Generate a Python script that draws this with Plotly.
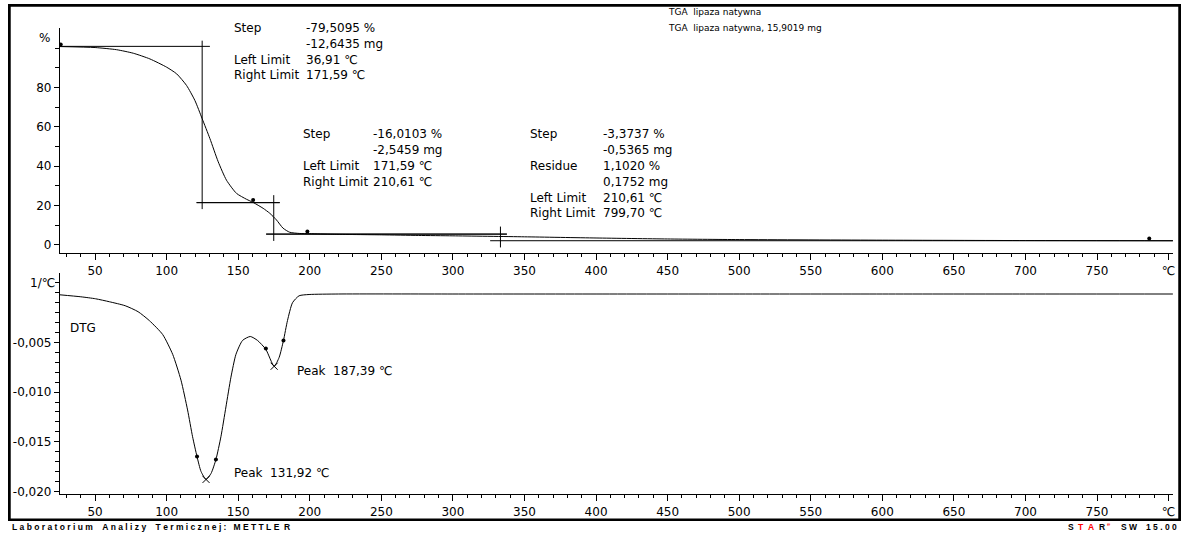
import plotly.graph_objects as go

# ---------------- data ----------------
# TGA curve: sample temperature (degC) and mass (%)
tga_temp = [25.4, 50, 65, 76.7, 88.3, 100, 107, 113.9, 119.7, 124.8, 130.2, 136, 141.8,
            148.8, 155.8, 160.4, 167.4, 172, 176.7, 181.3, 186, 193, 200, 216, 250, 276,
            300, 350, 400, 450, 500, 600, 700, 803]
tga_mass = [100.9, 100.4, 99.3, 97.5, 94.6, 90.4, 87.0, 81.1, 73.5, 64.2, 54.1, 42.3, 32.9,
            26.2, 23.2, 21.6, 18.6, 16.1, 12.7, 8.5, 6.4, 5.8, 5.7, 5.4, 5.1, 4.8,
            4.6, 4.1, 3.5, 3.0, 2.7, 2.4, 2.2, 2.1]

# DTG curve: temperature (degC) and derivative (1/degC)
dtg_temp = [25.4, 40, 50.3, 60, 71, 80, 87.9, 97.2, 104.2, 110, 114.6, 118.1, 121.2, 124,
            127.5, 131, 134.4, 137.9, 141.4, 144.9, 148.4, 153, 158.4, 163.5, 169.3, 175.1,
            178.6, 181.6, 184.4, 187.9, 192.5, 199.5, 220, 300, 400, 500, 600, 700, 803]
dtg_val = [-0.0002, -0.0004, -0.0006, -0.0009, -0.0013, -0.0019, -0.0028, -0.0042, -0.0062,
           -0.0088, -0.0118, -0.0145, -0.0165, -0.0180, -0.0188, -0.0182, -0.0168, -0.0145,
           -0.0115, -0.0085, -0.0062, -0.0048, -0.0044, -0.0048, -0.0057, -0.0074, -0.0065,
           -0.0048, -0.0028, -0.0010, -0.0003, -0.00017, -0.00012, -0.00012, -0.00012,
           -0.00012, -0.00012, -0.00012, -0.00012]

# step evaluation results
step_pct = [-79.5095, -16.0103, -3.3737]
step_mg = [-12.6435, -2.5459, -0.5365]
step_left = [36.91, 171.59, 210.61]
step_right = [171.59, 210.61, 799.70]
residue_pct = 1.1020
residue_mg = 0.1752
sample_mass_mg = 15.9019
start_level = 101.0

# step construction: inflection temperatures and baseline extents
step_infl_temp = [124.8, 174.8, 333.2]
step_vert_span = [(103.9, 18.2), (25.3, 2.0), (9.3, -1.3)]
upper_base_span = [(20.7, 130.2), (120.9, 179.0), (169.5, 337.7)]
lower_base_span = [(120.9, 179.0), (169.5, 337.7), (326.0, 803.0)]

# evaluation limit markers
tga_pin_temp = [26.0, 160.4, 198.3, 786.5]
tga_pin_val = [101.9, 22.8, 6.8, 3.2]
dtg_pin_temp = [121.2, 134.4, 169.3, 181.6]
dtg_pin_val = [-0.0165, -0.0168, -0.0056, -0.0048]

# peak evaluation: search windows and reported peak temperatures
peak_windows = [(110, 150), (165, 185)]
peak_reported = [131.92, 187.39]

# axis ticks
x_major = [50, 100, 150, 200, 250, 300, 350, 400, 450, 500, 550, 600, 650, 700, 750, 800]
x_major_text = [str(v) for v in x_major[:-1]] + ["\u2103"]
tga_ticks = [0, 20, 40, 60, 80]
tga_minor = [10, 30, 50, 70, 90, 100]
dtg_ticks = [-0.020, -0.015, -0.010, -0.005]
dtg_tick_text = ["-0,020", "-0,015", "-0,010", "-0,005"]
dtg_minor = [-0.019, -0.018, -0.017, -0.016, -0.014, -0.013, -0.012, -0.011, -0.009,
             -0.008, -0.007, -0.006, -0.004, -0.003, -0.002, -0.001, 0.0, 0.001]

# ---------------- layout helpers ----------------
W, H = 1185, 540
FONT = "DejaVu Sans"
NB = "\u00a0"


def fx(px):
    return px / W


def fy(py):
    return 1 - py / H


def num(v, d):
    return f"{v:.{d}f}".replace(".", ",")


fig = go.Figure()

# TGA curve
fig.add_trace(go.Scatter(x=tga_temp, y=tga_mass, mode="lines",
                         line=dict(color="black", width=1, shape="spline", smoothing=0.6),
                         xaxis="x", yaxis="y", hoverinfo="skip"))

# step construction lines
levels = [start_level]
for s in step_pct:
    levels.append(levels[-1] + s)
sx, sy = [], []
for i in range(3):
    a, b = upper_base_span[i]
    sx += [a, b, None]
    sy += [levels[i], levels[i], None]
    a, b = step_vert_span[i]
    sx += [step_infl_temp[i], step_infl_temp[i], None]
    sy += [a, b, None]
    a, b = lower_base_span[i]
    sx += [a, b, None]
    sy += [levels[i + 1], levels[i + 1], None]
fig.add_trace(go.Scatter(x=sx, y=sy, mode="lines", line=dict(color="black", width=1),
                         xaxis="x", yaxis="y", hoverinfo="skip"))

# TGA limit markers
fig.add_trace(go.Scatter(x=tga_pin_temp, y=tga_pin_val, mode="markers",
                         marker=dict(symbol="circle", size=4, color="black"),
                         xaxis="x", yaxis="y", hoverinfo="skip"))

# DTG curve
fig.add_trace(go.Scatter(x=dtg_temp, y=dtg_val, mode="lines",
                         line=dict(color="black", width=1, shape="spline", smoothing=0.6),
                         xaxis="x2", yaxis="y2", hoverinfo="skip"))
fig.add_trace(go.Scatter(x=dtg_pin_temp, y=dtg_pin_val, mode="markers",
                         marker=dict(symbol="circle", size=4, color="black"),
                         xaxis="x2", yaxis="y2", hoverinfo="skip"))

# peak markers at the DTG minima inside each window
pk_t, pk_v = [], []
for lo, hi in peak_windows:
    v, t = min((v, t) for t, v in zip(dtg_temp, dtg_val) if lo <= t <= hi)
    pk_t.append(t)
    pk_v.append(v)
fig.add_trace(go.Scatter(x=pk_t, y=pk_v, mode="markers",
                         marker=dict(symbol="x-thin", size=7, color="black",
                                     line=dict(color="black", width=1)),
                         xaxis="x2", yaxis="y2", hoverinfo="skip"))

# helper subplot spanning the sheet; its mirrored axis lines draw the outer frame
fig.add_trace(go.Scatter(x=[0.5], y=[0.5], mode="markers", marker=dict(opacity=0),
                         xaxis="x3", yaxis="y3", hoverinfo="skip"))

# ---------------- axes ----------------
xdom = [fx(60), fx(1175)]
xrange_ = [25.4, 803.1]
tickfont = dict(family=FONT, size=12, color="black")


def xaxis(anchor):
    return dict(domain=xdom, range=xrange_, anchor=anchor, showline=True, linecolor="black",
                linewidth=1, ticks="outside", ticklen=6, tickwidth=1, tickcolor="black",
                tickmode="array", tickvals=x_major, ticktext=x_major_text,
                showgrid=False, zeroline=False, tickfont=tickfont,
                minor=dict(ticks="outside", ticklen=3, tickwidth=1, tickcolor="black",
                           tickmode="linear", tick0=0, dtick=10, showgrid=False))


def yaxis(domain, rng, anchor, vals, text, minor):
    return dict(domain=domain, range=rng, anchor=anchor, showline=True, linecolor="black",
                linewidth=1, ticks="outside", ticklen=5, tickcolor="black", tickmode="array",
                tickvals=vals, ticktext=text, showgrid=False, zeroline=False, tickfont=tickfont,
                minor=dict(ticks="outside", ticklen=4, tickcolor="black", tickmode="array",
                           tickvals=minor, showgrid=False))


frame_axis = dict(showline=True, mirror=True, linecolor="black", linewidth=1.5,
                  showticklabels=False, ticks="", showgrid=False, zeroline=False,
                  range=[0, 1], fixedrange=True)

# outer frame of the printout
frame = dict(type="rect", xref="paper", yref="paper", layer="above",
             x0=fx(10), x1=fx(1181), y0=fy(523), y1=fy(6),
             line=dict(color="black", width=1.5))

fig.update_layout(
    width=W, height=H, margin=dict(l=0, r=0, t=0, b=0),
    paper_bgcolor="white", plot_bgcolor="rgba(0,0,0,0)", showlegend=False,
    font=dict(family=FONT, size=12, color="black"),
    xaxis=xaxis("y"),
    xaxis2=xaxis("y2"),
    yaxis=yaxis([fy(255), fy(28)], [-4.19, 110.45], "x", tga_ticks,
                [str(v) for v in tga_ticks], tga_minor),
    yaxis2=yaxis([fy(498), fy(275)], [-0.0203, 0.0020], "x2", dtg_ticks, dtg_tick_text,
                 dtg_minor),
    xaxis3=dict(domain=[fx(10), fx(1181)], anchor="y3", **frame_axis),
    yaxis3=dict(domain=[fy(523), fy(6)], anchor="x3", **frame_axis),
    shapes=[frame],
)

# ---------------- text ----------------
ann = []


def text(x, y, s, anchor="left", size=12, family=FONT, color="black"):
    ann.append(dict(x=fx(x), y=fy(y), xref="paper", yref="paper", text=s, showarrow=False,
                    xanchor=anchor, yanchor="middle",
                    font=dict(family=family, size=size, color=color)))


C = NB + "\u2103"
blocks = [
    (232, 305, 28, [("Step", num(step_pct[0], 4) + NB + "%"),
                    ("", num(step_mg[0], 4) + NB + "mg"),
                    ("Left Limit", num(step_left[0], 2) + C),
                    ("Right Limit", num(step_right[0], 2) + C)]),
    (302, 372, 135, [("Step", num(step_pct[1], 4) + NB + "%"),
                     ("", num(step_mg[1], 4) + NB + "mg"),
                     ("Left Limit", num(step_left[1], 2) + C),
                     ("Right Limit", num(step_right[1], 2) + C)]),
    (529, 602, 135, [("Step", num(step_pct[2], 4) + NB + "%"),
                     ("", num(step_mg[2], 4) + NB + "mg"),
                     ("Residue", num(residue_pct, 4) + NB + "%"),
                     ("", num(residue_mg, 4) + NB + "mg"),
                     ("Left Limit", num(step_left[2], 2) + C),
                     ("Right Limit", num(step_right[2], 2) + C)]),
]
for lx, vx, y0, rows in blocks:
    for k, (lab, val) in enumerate(rows):
        if lab:
            text(lx, y0 + 16 * k, lab)
        text(vx, y0 + 16 * k, val)

text(667, 12, "TGA" + NB * 2 + "lipaza natywna", size=9)
text(667, 28, "TGA" + NB * 2 + "lipaza natywna, " + num(sample_mass_mg, 4) + NB + "mg",
     size=9)

text(232, 477, "Peak" + NB * 2 + num(peak_reported[0], 2) + C)
text(295, 374, "Peak" + NB * 2 + num(peak_reported[1], 2) + C)
text(68, 330, "DTG")

# unit labels at the top of the y axes
text(52, 38, "%", anchor="right")
text(57, 285, "1/\u2103", anchor="right")


def spaced(s, inner=1, gap=4):
    return (NB * gap).join((NB * inner).join(list(w)) for w in s.split(" "))


FOOT = "Liberation Sans"
text(10, 531, "<b>" + spaced("Laboratorium Analizy Termicznej:") + NB * 3
     + spaced("METTLE") + NB * 2 + "R</b>", size=8.5, family=FOOT)
text(1068, 531, "<b>S</b>", size=8.5, family=FOOT)
text(1078, 531, "<b>T" + NB * 2 + "A</b>", size=8.5, family=FOOT, color="#ff0000")
text(1099, 531, "<b>R</b>", size=8.5, family=FOOT)
text(1107, 528, "e", size=6, family=FOOT, color="#ff0000")
text(1121, 531, "<b>S" + NB + "W</b>", size=8.5, family=FOOT)
text(1181, 531, "<b>" + spaced("15.00") + "</b>", anchor="right", size=8.5, family=FOOT)
fig.update_layout(annotations=ann)

fig.write_html("out.html")
